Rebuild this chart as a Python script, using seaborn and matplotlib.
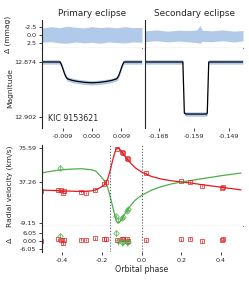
"""Eclipsing binary: light curve eclipses and radial velocity curve."""
import numpy as np
import seaborn as sns
import matplotlib.pyplot as plt

sns.set_style("ticks")
plt.rcParams["font.family"] = ["DejaVu Sans"]
plt.rcParams["axes.unicode_minus"] = False
FS_TICK = 4.6
FS_LAB = 5.4
FS_TITLE = 6.4

LC_BLUE = "#aec7e8"
RED = "#e41a1c"
GREEN = "#4daf4a"

# primary eclipse model (phase, magnitude)
prim_phase = [-0.0153, -0.0098, -0.0094, -0.0090, -0.0086, -0.0082, -0.0078, -0.0075,
              -0.0060, -0.0040, -0.0020, 0.0, 0.0020, 0.0040, 0.0060, 0.0075,
              0.0078, 0.0082, 0.0086, 0.0090, 0.0094, 0.0098, 0.0153]
prim_mag = [12.8740, 12.8740, 12.8752, 12.8770, 12.8790, 12.8808, 12.8820, 12.8826,
            12.8834, 12.8840, 12.8844, 12.8846, 12.8844, 12.8840, 12.8834, 12.8826,
            12.8820, 12.8808, 12.8790, 12.8770, 12.8752, 12.8740, 12.8740]
# residual scatter envelope around primary (mmag)
prim_res_x = [-0.0153, -0.0125, -0.0100, -0.0075, -0.0050, -0.0025, 0.0,
              0.0025, 0.0050, 0.0075, 0.0100, 0.0125, 0.0153]
prim_res_lo = [-2.2, -2.6, -2.3, -2.7, -2.4, -2.2, -2.6, -2.3, -2.5, -2.2, -2.6, -2.3, -2.4]
prim_res_hi = [2.3, 2.1, 2.5, 2.6, 2.2, 2.5, 2.3, 2.6, 2.2, 2.4, 2.5, 2.2, 2.3]

# secondary eclipse model (phase, magnitude)
sec_phase = [-0.1721, -0.16182, -0.16142, -0.16102, -0.1554, -0.1552, -0.1548, -0.1455]
sec_mag = [12.8740, 12.8740, 12.9000, 12.9005, 12.9005, 12.9000, 12.8740, 12.8740]
sec_res_x = [-0.1721, -0.1690, -0.1660, -0.1630, -0.1600, -0.1580, -0.1572, -0.1565,
             -0.1540, -0.1510, -0.1480, -0.1455]
sec_res_lo = [-1.3, -1.6, -1.2, -1.5, -1.4, -1.6, -3.0, -1.5, -1.3, -1.6, -1.2, -1.4]
sec_res_hi = [2.1, 1.8, 2.2, 1.9, 2.2, 2.4, 2.6, 2.0, 2.1, 1.8, 2.2, 1.9]

prim_ticks = [-0.009, 0.0, 0.009]
sec_ticks = [-0.1682, -0.1587, -0.1492]

# radial velocity model curves
rv_phase = [-0.50, -0.45, -0.40, -0.35, -0.30, -0.25, -0.23, -0.21, -0.19, -0.18,
            -0.17, -0.16, -0.15, -0.14, -0.13, -0.125, -0.12, -0.115, -0.11, -0.10,
            -0.09, -0.08, -0.07, -0.05, -0.03, 0.0, 0.05, 0.10, 0.15, 0.20,
            0.25, 0.30, 0.35, 0.40, 0.45, 0.50]
rv_red_model = [28.0, 27.7, 27.2, 26.8, 26.5, 27.2, 28.3, 30.5, 33.5, 36.0,
                40.5, 48.0, 57.0, 66.0, 73.0, 75.2, 75.6, 75.3, 74.5, 71.5,
                68.5, 65.5, 62.5, 57.5, 53.0, 48.5, 43.5, 40.5, 38.6, 37.3,
                36.0, 34.3, 32.8, 31.3, 29.8, 28.3]
rv_green_model = [47.5, 49.5, 51.0, 51.8, 52.2, 51.0, 49.5, 45.0, 39.5, 36.5,
                  31.0, 23.0, 14.0, 5.0, -4.0, -7.5, -9.0, -8.8, -7.8, -4.5,
                  -1.0, 2.5, 6.0, 12.0, 17.0, 22.0, 28.0, 32.0, 35.0, 37.3,
                  39.0, 40.8, 42.5, 44.3, 45.8, 47.3]

# radial velocity measurements
red_phase = [-0.505, -0.419, -0.407, -0.395, -0.390, -0.305, -0.280, -0.233, -0.186,
             -0.179, -0.125, -0.098, -0.091, -0.074, -0.069, 0.024, 0.196, 0.243,
             0.302, 0.404, 0.412]
red_rv = [27.6, 28.5, 27.8, 24.5, 26.6, 25.9, 25.2, 27.8, 34.8, 37.0, 75.0, 71.4,
          69.6, 64.0, 62.8, 47.8, 37.8, 36.9, 32.6, 30.9, 31.5]
red_err = [1.0] * len(red_phase)
red_res = [-0.4, 1.1, 0.8, -2.0, 0.7, 0.7, 0.4, 1.8, 1.4, 1.1, 0.5, 1.4, 0.9,
           0.9, 0.1, 0.2, 0.9, 1.6, -0.4, 0.4, 1.1]

green_phase = [-0.412, -0.128, -0.120, -0.098, -0.091, -0.074, -0.068]
green_rv = [53.5, -1.5, -5.6, -3.7, -2.5, 4.9, 6.5]
green_err = [2.5, 2.5, 2.5, 2.5, 2.5, 2.5, 2.5]
green_res = [3.4, 5.8, -0.5, -1.2, -1.0, -1.2, -0.8]

rv_yticks = [-9.15, 37.26, 75.59]
rvres_yticks = [-6.05, 0.0, 6.05]
phase_ticks = [-0.4, -0.2, 0.0, 0.2, 0.4]
sec_phase_line = -0.1587


def style(ax, bottom=False):
    for s in ["top", "right"]:
        ax.spines[s].set_visible(False)
    ax.spines["bottom"].set_visible(bottom)
    ax.spines["left"].set_linewidth(0.8)
    ax.tick_params(labelsize=FS_TICK, length=2.5, width=0.6, pad=1.5)


W, H = 249.0, 282.0
fig = plt.figure(figsize=(W / 100, H / 100), dpi=100)


def box(x0, x1, y0, y1):
    return [x0 / W, 1 - y1 / H, (x1 - x0) / W, (y1 - y0) / H]


ax_r1 = fig.add_axes(box(42, 142, 20, 48))
ax_m1 = fig.add_axes(box(42, 142, 48, 128))
ax_r2 = fig.add_axes(box(145, 243, 20, 48))
ax_m2 = fig.add_axes(box(145, 243, 48, 128))
ax_rv = fig.add_axes(box(42, 243, 145, 226))
ax_rr = fig.add_axes(box(42, 243, 226, 252))

# light curves
for ax_r, ax_m, xs, ms, rx, lo, hi, lims, ticks in [
    (ax_r1, ax_m1, prim_phase, prim_mag, prim_res_x, prim_res_lo, prim_res_hi,
     (-0.0153, 0.0153), prim_ticks),
    (ax_r2, ax_m2, sec_phase, sec_mag, sec_res_x, sec_res_lo, sec_res_hi,
     (-0.1721, -0.1455), sec_ticks),
]:
    ax_r.fill_between(rx, lo, hi, color=LC_BLUE, lw=0, alpha=0.95)
    ax_r.set_ylim(4.1, -4.7)
    ax_r.set_xlim(*lims)
    ax_r.set_xticks([])
    style(ax_r, bottom=True)
    ax_r.spines["bottom"].set_color("#777777")
    ax_r.spines["bottom"].set_linewidth(0.8)

    ms = np.array(ms)
    ax_m.fill_between(xs, ms - 0.0011, ms + 0.0011, color=LC_BLUE, lw=0)
    sns.lineplot(x=xs, y=ms, ax=ax_m, color="black", lw=0.9, estimator=None, sort=False)
    ax_m.set_ylim(12.9076, 12.8669)
    ax_m.set_xlim(*lims)
    ax_m.set_xticks(ticks)
    ax_m.set_xticklabels(["%.3f" % t for t in ticks])
    style(ax_m)

ax_r1.set_yticks([-2.5, 0.0, 2.5])
ax_r1.set_yticklabels(["-2.5", "0.0", "2.5"])
ax_r2.set_yticks([])
ax_m1.set_yticks([12.874, 12.902])
ax_m1.set_yticklabels(["12.874", "12.902"])
ax_m2.set_yticks([])
ax_m1.text(0.06, 0.12, "KIC 9153621", transform=ax_m1.transAxes, fontsize=5.7,
           va="center")
ax_r1.set_title("Primary eclipse", fontsize=FS_TITLE, pad=3)
ax_r2.set_title("Secondary eclipse", fontsize=FS_TITLE, pad=3)

# radial velocity curves
sns.lineplot(x=rv_phase, y=rv_red_model, ax=ax_rv, color=RED, lw=0.9, estimator=None)
sns.lineplot(x=rv_phase, y=rv_green_model, ax=ax_rv, color=GREEN, lw=0.9, estimator=None)
pt = dict(ms=2.8, mfc="none", mew=0.6, elinewidth=0.6, alpha=0.85)
ax_rv.errorbar(red_phase, red_rv, yerr=red_err, fmt="s", mec=RED, ecolor=RED, **pt)
ax_rv.errorbar(green_phase, green_rv, yerr=green_err, fmt="D", mec=GREEN, ecolor=GREEN, **pt)
ax_rr.errorbar(red_phase, red_res, yerr=red_err, fmt="s", mec=RED, ecolor=RED, **pt)
ax_rr.errorbar(green_phase, green_res, yerr=green_err, fmt="D", mec=GREEN, ecolor=GREEN, **pt)

for ax in (ax_rv, ax_rr):
    ax.axvline(0.0, color="#555555", ls=":", lw=0.8)
    ax.axvline(sec_phase_line, color="#555555", ls=":", lw=0.8)
    ax.set_xlim(-0.5, 0.51)

ax_rv.set_ylim(-12.5, 79.0)
ax_rv.set_yticks(rv_yticks)
ax_rv.set_yticklabels(["%.2f" % t for t in rv_yticks])
ax_rv.set_xticks([])
style(ax_rv, bottom=True)
ax_rv.spines["bottom"].set_color("#777777")

ax_rr.set_ylim(-8.5, 11.0)
ax_rr.set_yticks(rvres_yticks)
ax_rr.set_yticklabels(["%.2f" % t for t in rvres_yticks])
ax_rr.set_xticks(phase_ticks)
ax_rr.set_xticklabels(["%.1f" % t for t in phase_ticks])
style(ax_rr)

# axis labels
fig.text(8 / W, 1 - 34 / H, "Δ (mmag)", rotation=90, fontsize=FS_LAB,
         ha="center", va="center")
fig.text(10 / W, 1 - 88 / H, "Magnitude", rotation=90, fontsize=FS_LAB,
         ha="center", va="center")
fig.text(10 / W, 1 - 186 / H, "Radial velocity (km/s)", rotation=90, fontsize=FS_LAB,
         ha="center", va="center")
fig.text(10 / W, 1 - 240 / H, "Δ", rotation=90, fontsize=FS_LAB,
         ha="center", va="center")
fig.text(142 / W, 1 - 269 / H, "Orbital phase", fontsize=FS_LAB + 0.3,
         ha="center", va="center")

fig.savefig("out.png", dpi=100)
